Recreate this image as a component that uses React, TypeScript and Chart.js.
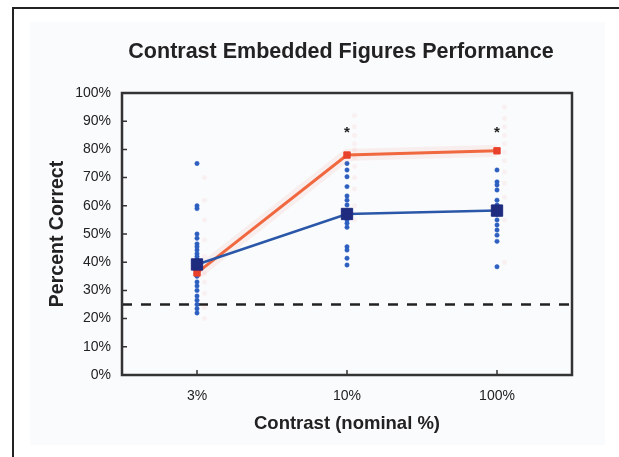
import { useEffect, useRef } from "react";
import { Chart, registerables } from "chart.js";

Chart.register(...registerables);

const FONT = "'Liberation Sans', Arial, Helvetica, sans-serif";

const categories = ["3%", "10%", "100%"];
const blueMeans = [39.2, 57.1, 58.3];
const redMeans = [36.2, 78.0, 79.5];

const blueDots3 = [75, 60, 59, 50, 48.5, 46.5, 45.5, 44.3, 43, 42, 41, 40, 39.5, 38.5, 38, 37.5, 35, 33, 31.6, 30, 28, 26.5, 25, 23.5, 22];
const blueDots10 = [75, 72.7, 70.3, 66.8, 63.5, 62, 60.3, 58, 56, 55, 53.8, 52.4, 45.5, 44.3, 41.4, 39];
const blueDots100 = [72.7, 68.5, 67.4, 65.6, 62, 60.3, 59, 57, 55, 53.2, 51.4, 49.6, 47.4, 38.4];

const redDots3 = [70, 62, 55, 48, 42, 36, 33, 29, 24, 20];
const redDots10 = [92, 88, 85, 82, 80, 77, 74, 70, 66, 60, 55];
const redDots100 = [95, 91, 88, 85, 82, 79, 76, 72, 68, 63, 55, 40];

const chanceLevel = 25;
const sigCategories = [1, 2];
const sigLevel = 86;

const titleText = "Contrast Embedded Figures Performance";
const xTitle = "Contrast (nominal %)";
const yTitle = "Percent Correct";

const W = 619;
const H = 457;

const decorPlugin = {
  id: "decor",
  afterDatasetsDraw(chart: any) {
    const { ctx, chartArea: a, scales } = chart;
    const xs = scales.x;
    const ys = scales.y;
    ctx.save();
    ctx.strokeStyle = "#333";
    ctx.lineWidth = 2.5;
    ctx.strokeRect(a.left, a.top, a.right - a.left, a.bottom - a.top);
    ctx.lineWidth = 1.5;
    ctx.beginPath();
    ys.ticks.forEach((t: any) => {
      const y = ys.getPixelForValue(t.value);
      ctx.moveTo(a.left, y);
      ctx.lineTo(a.left + 5, y);
    });
    xs.ticks.forEach((t: any) => {
      const x = xs.getPixelForValue(t.value);
      ctx.moveTo(x, a.bottom);
      ctx.lineTo(x, a.bottom - 5);
    });
    ctx.stroke();
    ctx.fillStyle = "#222";
    ctx.textAlign = "center";
    ctx.textBaseline = "middle";
    ctx.font = `bold 15px ${FONT}`;
    sigCategories.forEach((i) => {
      ctx.fillText("*", xs.getPixelForValue(i), ys.getPixelForValue(sigLevel));
    });
    ctx.font = `bold 21.5px ${FONT}`;
    ctx.fillText(titleText, (a.left + a.right) / 2 - 6, 52);
    ctx.restore();
  },
};

export default function App() {
  const ref = useRef<HTMLCanvasElement>(null);

  useEffect(() => {
    if (!ref.current) return;
    const pts = (i: number, arr: number[], dx = 0) => arr.map((v) => ({ x: i + dx, y: v }));
    const blueDots = [...pts(0, blueDots3), ...pts(1, blueDots10), ...pts(2, blueDots100)];
    const redDots = [...pts(0, redDots3, 0.05), ...pts(1, redDots10, 0.05), ...pts(2, redDots100, 0.05)];
    const blueLine = blueMeans.map((v, i) => ({ x: i, y: v }));
    const redLine = redMeans.map((v, i) => ({ x: i, y: v }));
    const chance = [
      { x: -0.5, y: chanceLevel },
      { x: categories.length - 0.5, y: chanceLevel },
    ];

    const chart = new Chart(ref.current, {
      type: "scatter",
      data: {
        datasets: [
          {
            label: "blue mean",
            data: blueLine,
            showLine: true,
            borderColor: "#2b57a8",
            borderWidth: 2.5,
            pointStyle: "rect",
            pointRadius: 8,
            pointBackgroundColor: "#1f2b7e",
            pointBorderColor: "#1f2b7e",
            pointBorderWidth: 1,
            order: 0,
          },
          {
            label: "red mean",
            data: redLine,
            showLine: true,
            borderColor: "#f0683f",
            borderWidth: 3,
            pointStyle: "rect",
            pointRadius: 4.5,
            pointBackgroundColor: "#e8412c",
            pointBorderColor: "#e8412c",
            pointBorderWidth: 1,
            order: 1,
          },
          {
            label: "red halo",
            data: redLine,
            showLine: true,
            borderColor: "rgba(240,110,90,0.09)",
            borderWidth: 12,
            pointRadius: 0,
            order: 2,
          },
          {
            label: "blue dots",
            data: blueDots,
            pointStyle: "circle",
            pointRadius: 2.2,
            pointBackgroundColor: "#2c5fbf",
            pointBorderColor: "#2c5fbf",
            pointBorderWidth: 0.5,
            order: 3,
          },
          {
            label: "red dots",
            data: redDots,
            pointStyle: "circle",
            pointRadius: 2.5,
            pointBackgroundColor: "rgba(240,100,80,0.07)",
            pointBorderColor: "rgba(240,100,80,0.07)",
            pointBorderWidth: 0,
            order: 4,
          },
          {
            label: "chance",
            data: chance,
            showLine: true,
            borderColor: "#222",
            borderWidth: 2.5,
            borderDash: [10, 9],
            pointRadius: 0,
            order: 5,
          },
        ],
      },
      options: {
        animation: false,
        responsive: false,
        layout: { padding: { top: 93, right: 47, left: 0, bottom: 0 } },
        plugins: {
          legend: { display: false },
          tooltip: { enabled: false },
          title: { display: false },
        },
        scales: {
          x: {
            type: "linear",
            min: -0.5,
            max: categories.length - 0.5,
            afterBuildTicks: (s: any) => {
              s.ticks = categories.map((_, i) => ({ value: i }));
            },
            afterFit: (s: any) => {
              s.height = 82;
            },
            grid: { display: false, drawTicks: false },
            border: { display: false },
            ticks: {
              autoSkip: false,
              maxRotation: 0,
              padding: 13,
              color: "#222",
              font: { family: FONT, size: 14 },
              callback: (v: any) => categories[Math.round(Number(v))] ?? "",
            },
            title: {
              display: true,
              text: xTitle,
              color: "#222",
              font: { family: FONT, size: 18.5, weight: "bold" },
              padding: { top: 0, bottom: 22 },
            },
          },
          y: {
            min: 0,
            max: 100,
            afterFit: (s: any) => {
              s.width = 122;
            },
            grid: { display: false, drawTicks: false },
            border: { display: false },
            ticks: {
              stepSize: 10,
              padding: 11,
              color: "#222",
              font: { family: FONT, size: 14 },
              callback: (v: any) => `${v}%`,
            },
            title: {
              display: true,
              text: yTitle,
              color: "#222",
              font: { family: FONT, size: 19.5, weight: "bold" },
              padding: { top: 46, bottom: 0 },
            },
          },
        },
      },
      plugins: [decorPlugin],
    } as any);

    return () => chart.destroy();
  }, []);

  return (
    <div style={{ position: "fixed", left: 0, top: 0, width: W, height: H, background: "#fff", overflow: "hidden" }}>
      <div style={{ position: "absolute", left: 30, top: 22, width: 575, height: 423, background: "#fafbfd" }} />
      <div
        style={{
          position: "absolute",
          left: 12,
          top: 7,
          right: 0,
          bottom: 0,
          borderTop: "2px solid #222",
          borderLeft: "2px solid #222",
        }}
      />
      <canvas ref={ref} width={W} height={H} style={{ position: "absolute", left: 0, top: 0, width: W, height: H }} />
    </div>
  );
}
